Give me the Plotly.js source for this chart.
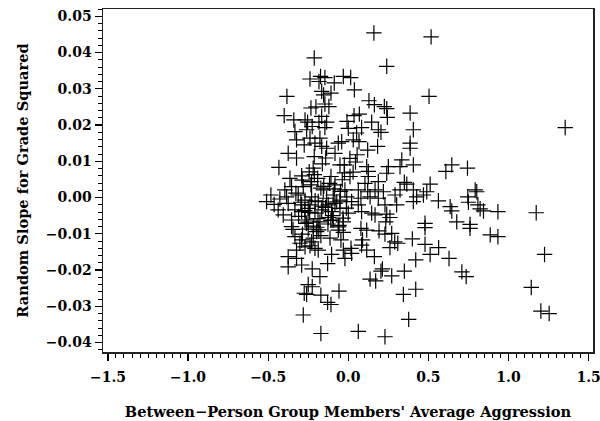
<!DOCTYPE html>
<html>
<head>
<meta charset="utf-8">
<script src="https://cdn.plot.ly/plotly-3.0.1.min.js"></script>
<style>
  html, body { margin: 0; padding: 0; background: #fff; }
  #chart { width: 600px; height: 421px; }
</style>
</head>
<body>
<div id="chart"></div>
<script>
// Between-person group aggression (x) against the random slope for grade squared (y)
const aggression = [
  -0.2125, -0.239, -0.173, -0.146, -0.183, -0.0875, -0.031, 0.015, 0.038, -0.383,
  -0.166, -0.154, -0.108, -0.146, -0.121, -0.233, -0.202, -0.400, -0.340, -0.270,
  -0.254, -0.166, -0.183, -0.135, -0.008, 0.036,
  0.160, 0.517, 0.240, 0.504, 0.129, 0.163, 0.225, 0.240, 0.069, 0.244,
  0.386, 0.146,
  1.354, 0.744, 0.792, 0.802, 0.746, 0.750, 0.809, 0.823, 0.844, 0.934,
  1.173, 0.677, 0.760,
  0.760, 0.886, 0.934, 1.225, 0.709, 0.736, 1.142, 1.202, 1.254,
  0.479, 0.400, 0.479, 0.564, 0.511, 0.629, 0.421, 0.309, 0.260, 0.271,
  0.163, 0.213, 0.204, 0.271, 0.350, 0.136, 0.171, 0.344, 0.421, 0.377,
  0.0625, 0.229, 0.083, 0.115, 0.079, 0.115, 0.192, 0.229, 0.290, 0.089,
  -0.375, -0.375, -0.323, -0.291, -0.225, -0.177, -0.250, -0.225, -0.275, -0.260,
  -0.171, -0.058, -0.129, -0.108, -0.281, -0.171, -0.129, -0.104, -0.031, -0.021,
  0.017, 0.021, -0.323, -0.239, -0.208, -0.1875, -0.229, -0.302, -0.270, -0.333,
  -0.354, -0.250, -0.197, -0.171, -0.114, -0.0625, -0.031, -0.046, -0.219, -0.291,
  -0.333, -0.260, -0.225, -0.146, 0.000, -0.323, -0.275, -0.239, -0.208, -0.177,
  -0.166, -0.135, -0.041, -0.0625, 0.031, -0.375, -0.323, -0.2125, -0.141, -0.083,
  -0.219, -0.433, -0.052, -0.025, -0.364, -0.291, -0.191, -0.108, -0.0375, 0.0106,
  -0.354, -0.281, -0.233, -0.156, -0.083, -0.021, -0.396, -0.483, -0.510, -0.4625,
  -0.427, -0.385, -0.375, -0.3125, -0.270, -0.229, -0.1875, -0.135, -0.094, -0.052,
  -0.010, 0.021, -0.4375, -0.406, -0.333, -0.291, -0.250, -0.208, -0.166, -0.104,
  -0.052, 0.000, -0.354, -0.270, -0.177, -0.094, -0.031, -0.291, -0.125, -0.083,
  -0.239,
  0.083, 0.052, 0.1875, 0.204, 0.406, 0.386, 0.386, 0.121, 0.183, 0.067,
  0.115, 0.125, 0.125, 0.250, 0.240, 0.334, 0.323, 0.406, 0.609, 0.646,
  0.511, 0.350, 0.365, 0.1875, 0.104, 0.0625, 0.121, 0.167, 0.219, 0.292,
  0.323, 0.406, 0.427, 0.469, 0.490, 0.079, 0.136, 0.1875, 0.229, 0.302,
  0.406, 0.5625, 0.636, 0.646, 0.0625, 0.083, 0.146, 0.167, 0.240, 0.260,
  0.234, 0.479,
  -0.310, -0.262, -0.241, -0.218, -0.189, -0.158, -0.127, -0.098, -0.061, -0.033,
  -0.296, -0.271, -0.229, -0.207, -0.171, -0.142, -0.117, -0.072, -0.049, -0.012,
  -0.327, -0.288, -0.251, -0.212, -0.184, -0.153, -0.124, -0.087, -0.058, -0.024,
  0.010, 0.045, 0.030, 0.055, -0.345, -0.286, -0.244, -0.196, -0.162, -0.109
];
const randomSlope = [
  0.0385, 0.0327, 0.0334, 0.0331, 0.0320, 0.0316, 0.0334, 0.0331, 0.0297, 0.0279,
  0.0293, 0.0283, 0.0288, 0.0258, 0.0251, 0.0247, 0.0250, 0.0226, 0.0214, 0.0214,
  0.0208, 0.0224, 0.0208, 0.0208, 0.0210, 0.0226,
  0.0454, 0.0443, 0.0362, 0.0279, 0.0267, 0.0256, 0.0251, 0.0245, 0.0230, 0.0221,
  0.0233, 0.0208,
  0.0193, 0.0081, 0.0021, 0.0016, 0.0002, -0.0013, -0.0020, -0.0031, -0.0037, -0.0039,
  -0.0042, -0.0067, -0.0074,
  -0.0085, -0.0103, -0.0108, -0.0157, -0.0205, -0.0218, -0.0248, -0.0313, -0.0320,
  -0.0083, -0.0114, -0.0129, -0.0138, -0.0157, -0.0168, -0.0172, -0.0126, -0.0138, -0.0099,
  -0.0163, -0.0197, -0.0203, -0.0216, -0.0203, -0.0225, -0.0230, -0.0267, -0.0253, -0.0336,
  -0.0369, -0.0384, -0.0131, -0.0145, -0.0085, -0.0090, -0.0092, -0.0101, -0.0122, -0.0117,
  -0.0163, -0.0191, -0.0168, -0.0186, -0.0197, -0.0218, -0.0240, -0.0246, -0.0264, -0.0267,
  -0.0269, -0.0258, -0.0289, -0.0295, -0.0324, -0.0375, -0.0182, -0.0157, -0.0145, -0.0168,
  -0.0140, -0.0154, -0.0145, -0.0133, -0.0140, -0.0145, -0.0122, -0.0126, -0.0136, -0.0108,
  -0.0080, -0.0087, -0.0094, -0.0105, -0.0112, -0.0090, -0.0096, -0.0117, -0.0112, -0.0117,
  0.0182, 0.0187, 0.0196, 0.0193, 0.0191, 0.0159, 0.0145, 0.0164, 0.0150, 0.0164,
  0.0141, 0.0136, 0.0154, 0.0150, 0.0159, 0.0122, 0.0109, 0.0113, 0.0109, 0.0122,
  0.0081, 0.0083, 0.0090, 0.0090, 0.0053, 0.0060, 0.0053, 0.0058, 0.0049, 0.0058,
  0.0030, 0.0030, 0.0035, 0.0021, 0.0035, 0.0021, 0.0021, 0.0007, -0.0011, -0.0019,
  -0.0004, 0.0002, -0.0016, 0.0007, -0.0007, 0.0002, -0.0011, -0.0002, 0.0007, -0.0007,
  0.0002, -0.0011, -0.0034, -0.0048, -0.0034, -0.0039, -0.0030, -0.0043, -0.0034, -0.0039,
  -0.0030, -0.0043, -0.0062, -0.0062, -0.0067, -0.0062, -0.0067, -0.0020, -0.0020, -0.0016,
  -0.0020,
  0.0193, 0.0178, 0.0187, 0.0180, 0.0187, 0.0150, 0.0136, 0.0131, 0.0141, 0.0154,
  0.0085, 0.0072, 0.0058, 0.0085, 0.0067, 0.0104, 0.0085, 0.0090, 0.0072, 0.0090,
  0.0037, 0.0042, 0.0037, 0.0044, 0.0039, 0.0021, 0.0016, 0.0021, 0.0016, 0.0007,
  0.0021, 0.0021, 0.0002, 0.0007, 0.0016, -0.0002, 0.0002, -0.0002, -0.0020, -0.0020,
  -0.0011, -0.0009, -0.0025, -0.0037, -0.0020, -0.0039, -0.0043, -0.0048, -0.0046, -0.0055,
  -0.0067, -0.0071,
  -0.0052, -0.0071, -0.0041, -0.0079, -0.0058, -0.0024, -0.0073, -0.0050, -0.0081, -0.0057,
  -0.0013, -0.0036, 0.0044, -0.0009, 0.0026, -0.0027, 0.0039, -0.0012, 0.0017, -0.0029,
  0.0012, 0.0048, -0.0068, 0.0063, -0.0089, 0.0031, -0.0055, 0.0024, -0.0077, 0.0068,
  0.0108, 0.0098, 0.0070, 0.0118, -0.0088, -0.0101, 0.0071, -0.0082, 0.0093, -0.0063
];

const xTitle = "Between\u2212Person Group Members' Average Aggression";
const yTitle = "Random Slope for Grade Squared";

const tickFont = { family: "DejaVu Serif", size: 14, color: "#000", weight: "bold" };
const titleFont = { family: "DejaVu Serif", size: 14.6, color: "#000", weight: "bold" };

Plotly.newPlot("chart", [{
  type: "scatter",
  mode: "markers",
  x: aggression,
  y: randomSlope,
  marker: {
    symbol: "cross-thin-open",
    size: 11,
    color: "#000",
    line: { color: "#000", width: 1.2 }
  },
  hoverinfo: "skip"
}], {
  width: 600,
  height: 421,
  margin: { l: 103, r: 7, t: 9, b: 69 },
  paper_bgcolor: "#fff",
  plot_bgcolor: "#fff",
  showlegend: false,
  font: tickFont,
  xaxis: {
    range: [-1.531, 1.5275],
    tickvals: [-1.5, -1.0, -0.5, 0.0, 0.5, 1.0, 1.5],
    ticktext: ["\u22121.5", "\u22121.0", "\u22120.5", "0.0", "0.5", "1.0", "1.5"],
    ticks: "outside",
    ticklen: 7,
    tickwidth: 1.3,
    tickcolor: "#000",
    ticklabelstandoff: 5,
    ticklabeloverflow: "allow",
    minor: { dtick: 0.05, ticks: "outside", ticklen: 4, tickwidth: 1, tickcolor: "#000", showgrid: false },
    showgrid: false,
    zeroline: false,
    showline: true,
    linecolor: "#222",
    linewidth: 1.5,
    mirror: true,
    tickfont: tickFont,
    title: { text: xTitle, font: titleFont, standoff: 22 }
  },
  yaxis: {
    range: [-0.0426, 0.052],
    tickvals: [-0.04, -0.03, -0.02, -0.01, 0.0, 0.01, 0.02, 0.03, 0.04, 0.05],
    ticktext: ["\u22120.04", "\u22120.03", "\u22120.02", "\u22120.01", "0.00", "0.01", "0.02", "0.03", "0.04", "0.05"],
    ticks: "outside",
    ticklen: 7,
    tickwidth: 1.3,
    tickcolor: "#000",
    ticklabeloverflow: "allow",
    minor: { dtick: 0.002, ticks: "outside", ticklen: 4, tickwidth: 1, tickcolor: "#000", showgrid: false },
    showgrid: false,
    zeroline: false,
    showline: true,
    linecolor: "#222",
    linewidth: 1.5,
    mirror: true,
    tickfont: tickFont,
    title: { text: yTitle, font: titleFont, standoff: 14 }
  }
}, { displayModeBar: false, staticPlot: true });
</script>
</body>
</html>
